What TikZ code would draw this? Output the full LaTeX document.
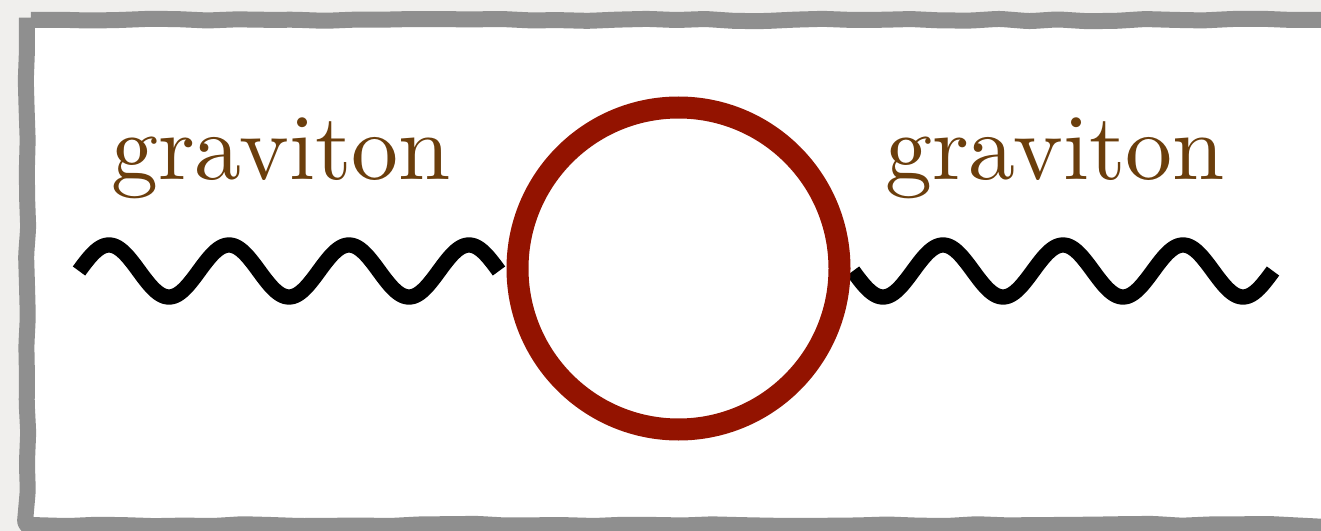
\documentclass[tikz,border=0pt]{standalone}
\usepackage{fontspec}
\newfontfamily\lmten{lmroman10-regular.otf}
\usetikzlibrary{decorations.pathmorphing}
\definecolor{bgout}{RGB}{240,239,237}
\definecolor{framegray}{RGB}{143,143,143}
\definecolor{loopred}{RGB}{147,19,0}
\definecolor{textbrown}{RGB}{107,62,12}
\tikzset{
  wave/.style={line width=11.5pt, black, line join=round},
  loopline/.style={line width=16.5pt, draw=loopred},
  label/.style={text=textbrown, anchor=base, inner sep=0pt, font=\lmten\fontsize{70.5}{80}\selectfont},
  frameline/.style={line width=12pt, draw=framegray, fill=white, line join=round,
    decorate, decoration={random steps, segment length=22pt, amplitude=0.9pt}, rounded corners=3pt}
}
\begin{document}
\begin{tikzpicture}[x=0.75pt, y=-0.75pt]
\pgfmathsetseed{7}
\useasboundingbox (0,0) rectangle (1321,531);
\clip (0,0) rectangle (1321,531);
\fill[bgout] (0,0) rectangle (1321,531);
\draw[frameline] (27,20) -- (1332,20) -- (1332,525) -- (27,525) -- cycle;
\node[circle, minimum size=0pt, inner sep=0pt] (loop) at (678.5,268.5) {};
\coordinate (lw0) at (79,271);
\coordinate (rw0) at (853,271);
\draw[wave] plot[domain=0:420, samples=240] ({79+\x}, {271-26*sin(3*\x)});
\draw[wave] plot[domain=0:420, samples=240] ({853+\x}, {271+26*sin(3*\x)});
\draw[loopline] (loop) circle[radius=161];
\node[label] (gl) at (281,180) {graviton};
\node[label] (gr) at (1055,180) {graviton};
\end{tikzpicture}
\end{document}
